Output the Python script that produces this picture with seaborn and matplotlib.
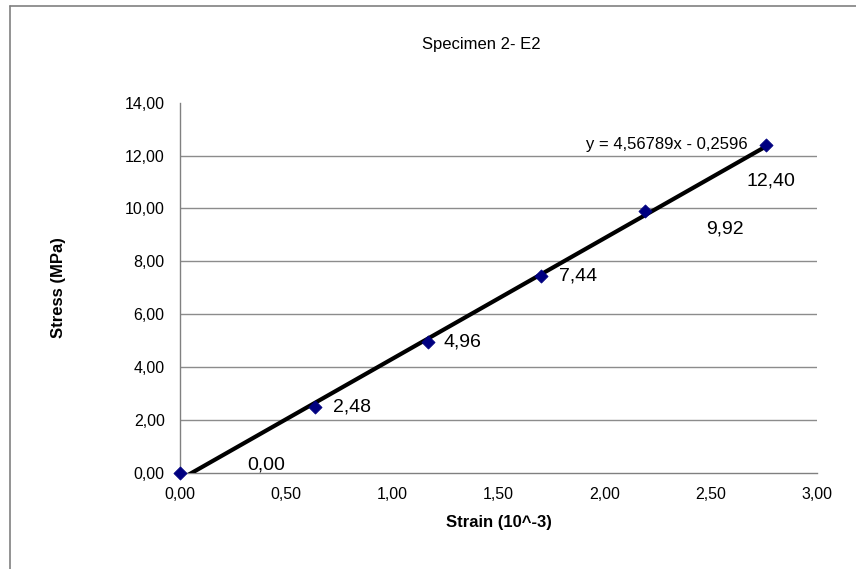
import matplotlib
matplotlib.use("Agg")
import matplotlib.pyplot as plt
import seaborn as sns
import pandas as pd
import numpy as np

# ---- data ----
strain = [0.0, 0.636, 1.167, 1.702, 2.192, 2.760]
stress = [0.00, 2.48, 4.96, 7.44, 9.92, 12.40]
point_labels = ["0,00", "2,48", "4,96", "7,44", "9,92", "12,40"]
trend_slope = 4.56789
trend_intercept = -0.2596
equation_text = "y = 4,56789x - 0,2596"
x_ticks = [0.0, 0.5, 1.0, 1.5, 2.0, 2.5, 3.0]
x_tick_labels = ["0,00", "0,50", "1,00", "1,50", "2,00", "2,50", "3,00"]
y_ticks = [0, 2, 4, 6, 8, 10, 12, 14]
y_tick_labels = ["0,00", "2,00", "4,00", "6,00", "8,00", "10,00", "12,00", "14,00"]
title = "Specimen 2- E2"
x_label = "Strain (10^-3)"
y_label = "Stress (MPa)"

# label offsets (pixels) relative to their points
label_offsets = [(67, 8), (18, 0), (16, 0), (18, 0), (61, -18), (-20, -36)]

sns.set_style("white")
plt.rcParams['font.family'] = ['Liberation Sans', 'DejaVu Sans']
plt.rcParams['text.color'] = 'black'
plt.rcParams['axes.labelcolor'] = 'black'
plt.rcParams['xtick.color'] = 'black'
plt.rcParams['ytick.color'] = 'black'

W, H = 856, 569
fig = plt.figure(figsize=(W / 100, H / 100), dpi=100)
ax = fig.add_axes([180 / W, 1 - 472.7 / H, (817 - 180) / W, (472.7 - 102.7) / H])

df = pd.DataFrame({"strain": strain, "stress": stress})
trend_x = [min(strain), max(strain)]
trend_df = pd.DataFrame({"strain": trend_x,
                         "stress": [trend_slope * v + trend_intercept for v in trend_x]})

# gridlines (horizontal only, not at the top)
for yv in y_ticks[1:-1]:
    ax.axhline(yv, color="#8c8c8c", lw=1.0, zorder=0)

sns.lineplot(data=trend_df, x="strain", y="stress", ax=ax, color="black",
             lw=3.0, zorder=3)
sns.scatterplot(data=df, x="strain", y="stress", ax=ax, marker="D", s=45,
                color="#000080", edgecolor="#000080", zorder=4, clip_on=False)

ax.set_xlim(0, 3)
ax.set_ylim(0, 14)
ax.set_xticks(x_ticks)
ax.set_xticklabels(x_tick_labels, fontsize=11.5)
ax.set_yticks(y_ticks)
ax.set_yticklabels(y_tick_labels, fontsize=11.5)
ax.tick_params(axis="both", direction="out", length=5, width=1, color="#808080",
               pad=6, labelcolor="black")
ax.tick_params(axis="x", pad=5)

for s in ["top", "right"]:
    ax.spines[s].set_visible(False)
for s in ["left", "bottom"]:
    ax.spines[s].set_color("#808080")
    ax.spines[s].set_linewidth(1.0)

ax.set_xlabel(x_label, fontsize=12, fontweight="bold", va="center", color="black")
ax.set_ylabel(y_label, fontsize=12, fontweight="bold", va="center", color="black")
ax.xaxis.set_label_coords(0.5, -(522 - 472.7) / 370)
ax.yaxis.set_label_coords(-(180 - 58) / 637, 0.5)

for xv, yv, lab, (dx, dy) in zip(strain, stress, point_labels, label_offsets):
    ax.annotate(lab, (xv, yv), xytext=(dx, dy), textcoords="offset pixels",
                fontsize=14, ha="left", va="center", annotation_clip=False,
                color="black")

ax.annotate(equation_text, (strain[-1], stress[-1]), xytext=(-18, 0),
            textcoords="offset pixels", fontsize=12, ha="right", va="center",
            color="black")

fig.text(481 / W, 1 - 45 / H, title, fontsize=12, ha="center", va="center",
         color="black")

# chart area border (top and left visible)
fig.add_artist(plt.Line2D([10 / W, 1], [1 - 6 / H, 1 - 6 / H], color="#808080", lw=1.2))
fig.add_artist(plt.Line2D([10 / W, 10 / W], [0, 1 - 6 / H], color="#808080", lw=1.2))

fig.savefig("out.png", dpi=100)
